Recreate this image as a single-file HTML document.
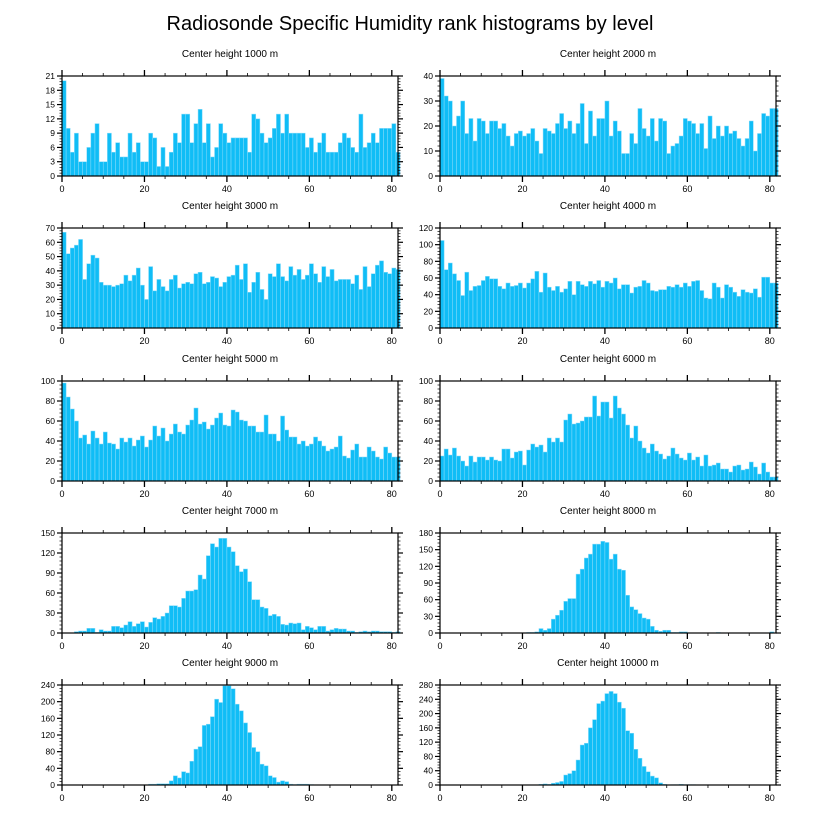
<!DOCTYPE html>
<html><head><meta charset="utf-8">
<style>
html,body{margin:0;padding:0;background:#fff;}
svg{display:block;font-family:"Liberation Sans",Arial,sans-serif;}
</style></head>
<body>
<svg id="chart" width="816" height="824" viewBox="0 0 816 824" xmlns="http://www.w3.org/2000/svg">
<rect width="816" height="824" fill="#fff"/>
<text x="410" y="30" text-anchor="middle" font-size="20" fill="#000">Radiosonde Specific Humidity rank histograms by level</text>
</svg>
<script>
const panelTitles = ["Center height 1000 m","Center height 2000 m","Center height 3000 m","Center height 4000 m","Center height 5000 m","Center height 6000 m","Center height 7000 m","Center height 8000 m","Center height 9000 m","Center height 10000 m"];
const yMax = [21,40,70,120,100,100,150,180,240,280];
const yStep = [3,10,10,20,20,20,30,30,40,40];
const xTicks = [0,20,40,60,80];
const counts1000 = [20,10,5,9,3,3,6,9,11,3,3,9,5,7,4,4,9,5,7,3,3,9,8,2,6,2,5,9,7,13,13,7,11,14,7,11,4,6,11,9,7,8,8,8,8,5,13,12,9,7,8,10,13,9,13,9,9,9,9,6,8,5,7,9,5,5,5,7,9,8,6,5,13,6,7,9,7,10,10,10,11,5];
const counts2000 = [39,32,30,20,24,30,17,23,14,23,22,17,22,22,19,21,16,12,17,18,16,17,19,14,9,19,18,17,21,25,19,22,17,21,29,13,26,16,23,23,30,16,22,18,9,9,17,13,27,19,16,23,14,23,22,9,12,13,16,23,22,21,17,21,11,24,15,20,16,20,17,18,15,12,15,22,10,17,25,24,27,27];
const counts3000 = [67,52,56,58,62,34,45,51,49,32,30,30,29,30,31,37,33,37,42,30,20,43,26,34,29,26,34,37,28,31,32,31,38,39,31,32,36,35,29,32,36,37,44,34,45,25,32,39,27,20,38,36,45,36,33,43,37,41,34,37,45,38,32,43,36,41,33,34,34,34,31,37,27,43,29,38,44,47,39,38,42,41];
const counts4000 = [105,70,78,65,57,39,67,45,50,51,57,62,59,59,50,47,54,50,51,54,48,54,59,68,43,66,49,45,50,43,47,56,40,56,52,50,56,53,57,49,56,54,60,47,52,52,42,49,50,57,54,45,44,46,46,50,49,52,49,54,50,56,57,45,36,35,54,49,36,52,49,43,38,46,43,42,47,37,61,61,54,54];
const counts5000 = [98,84,72,60,43,46,37,50,43,37,49,38,37,32,43,39,43,35,41,45,34,41,55,45,53,40,47,57,49,47,56,61,73,57,59,52,56,63,68,56,55,71,69,61,60,55,55,49,49,66,47,47,40,65,51,44,44,37,40,35,37,44,40,35,30,32,34,45,25,23,31,37,24,24,34,30,24,22,34,28,24,24];
const counts6000 = [25,32,26,33,25,20,15,25,19,24,24,21,24,21,20,32,32,23,29,30,16,31,37,34,36,29,43,39,43,39,61,67,57,58,60,64,64,85,65,79,79,63,85,73,67,56,43,55,40,33,28,37,30,27,22,25,33,27,23,21,28,21,24,15,26,15,16,18,12,12,9,15,16,11,12,19,14,7,18,9,4,4];
const counts7000 = [0,0,0,2,3,3,7,7,1,5,3,3,10,10,8,12,17,10,14,17,9,16,23,21,25,30,41,41,39,52,63,63,65,87,81,116,134,129,142,142,129,122,101,92,96,77,50,50,39,37,26,28,25,13,12,15,14,15,5,10,8,5,10,10,3,5,7,6,6,3,3,1,2,3,2,3,3,2,2,2,1,2];
const counts8000 = [0,0,0,0,0,0,0,0,0,0,0,0,0,0,0,0,0,0,0,0,0,1,1,2,8,5,8,25,32,41,57,62,62,106,115,135,142,160,160,165,163,133,142,115,113,68,47,42,35,27,25,12,5,3,5,5,1,1,2,2,0,0,0,0,0,0,0,1,0,0,0,0,0,0,0,0,0,0,0,0,2,0];
const counts9000 = [0,0,0,0,0,0,0,0,0,0,0,0,0,0,0,0,0,0,0,0,0,2,2,3,3,3,10,22,17,32,29,57,86,92,143,146,164,206,198,238,238,231,194,178,149,126,90,80,50,46,22,18,7,10,8,2,1,2,2,2,1,0,0,0,0,0,0,0,0,0,0,0,0,0,0,0,0,0,0,0,0,0];
const counts10000 = [0,0,0,0,0,0,0,0,0,0,0,0,0,0,0,0,0,0,0,0,0,0,0,0,2,3,2,5,7,10,28,32,40,70,112,117,160,183,228,235,256,262,256,232,215,152,145,100,75,52,37,25,20,6,2,0,1,1,2,1,1,1,0,0,0,0,0,0,0,0,0,0,0,0,0,0,0,0,0,0,0,0];
const allCounts = [counts1000,counts2000,counts3000,counts4000,counts5000,counts6000,counts7000,counts8000,counts9000,counts10000];

const NS = "http://www.w3.org/2000/svg";
const svg = document.getElementById("chart");
function mk(tag, attrs, parent){const e=document.createElementNS(NS,tag);for(const k in attrs)e.setAttribute(k,attrs[k]);parent.appendChild(e);return e;}

const colX = [62, 440], rowY = [76, 228, 381, 533, 685];
const W = 336, H = 100, XMAX = 81.5;

allCounts.forEach((data, p) => {
  const col = p % 2, row = Math.floor(p / 2);
  const x0 = colX[col], y0 = rowY[row];
  const sx = v => x0 + v * W / XMAX;
  const sy = v => y0 + H - v * H / yMax[p];
  const g = mk("g", {}, svg);
  
  
  const t = mk("text", {x: x0 + W / 2, y: y0 - 19, "text-anchor": "middle", "font-size": "10"}, g);
  t.textContent = panelTitles[p];
  
  
  data.forEach((v, i) => {
    if (v <= 0) return;
    const r = mk("rect", {x: sx(i), y: sy(v), width: W / XMAX, height: sy(0) - sy(v), fill: "#10bdf6", stroke: "#8adcfa", "stroke-width": "0.5"}, g);
    
    
  });
  const frame = mk("rect", {x: x0, y: y0, width: W, height: H, fill: "none", stroke: "#000", "stroke-width": "1.2"}, g);
  
  
  // x ticks
  for (let v = 0; v <= 80; v += 5) {
    const major = v % 20 === 0, len = major ? 6 : 3;
    mk("line", {x1: sx(v), x2: sx(v), y1: y0 + H, y2: y0 + H + len, stroke: "#000", "stroke-width": major ? 1.3 : 0.8}, g);
    mk("line", {x1: sx(v), x2: sx(v), y1: y0, y2: y0 - len, stroke: "#000", "stroke-width": major ? 1.3 : 0.8}, g);
  }
  xTicks.forEach(v => {
    const l = mk("text", {x: sx(v), y: y0 + H + 16, "text-anchor": "middle", "font-size": "9"}, g);
    l.textContent = v;
    
    
  });
  // y ticks
  const st = yStep[p], minor = st / 5;
  for (let k = 0; k <= yMax[p] / minor + 1e-6; k++) {
    const v = k * minor, major = k % 5 === 0, len = major ? 5 : 2.5;
    mk("line", {x1: x0, x2: x0 - len, y1: sy(v), y2: sy(v), stroke: "#000", "stroke-width": major ? 1.2 : 0.7}, g);
    mk("line", {x1: x0 + W, x2: x0 + W + len, y1: sy(v), y2: sy(v), stroke: "#000", "stroke-width": major ? 1.2 : 0.7}, g);
  }
  for (let v = 0; v <= yMax[p]; v += st) {
    const l = mk("text", {x: x0 - 7, y: sy(v) + 3, "text-anchor": "end", "font-size": "8.5"}, g);
    l.textContent = v;
    
    
  }
});
</script>
</body></html>
